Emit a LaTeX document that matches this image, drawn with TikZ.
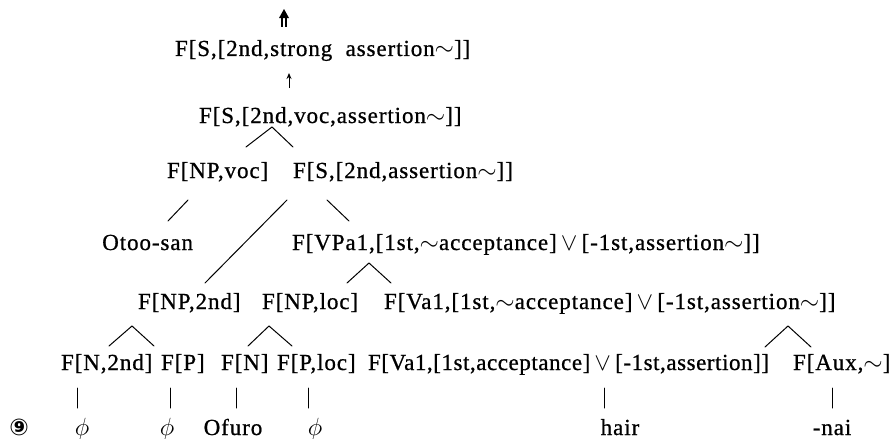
\documentclass[tikz,border=0pt]{standalone}
\usepackage{fontspec}
\setmainfont{Liberation Serif}[LetterSpace=4, FakeBold=0.8]
\newfontfamily\symfont{DejaVu Sans}
\usetikzlibrary{arrows.meta}

\newcommand{\mysim}{$\sim$}
\newcommand{\myvee}{$\,\vee\,$}

\tikzset{
  lbl/.style={inner sep=0pt, outer sep=0pt, font=\fontsize{23}{27}\selectfont},
  branch/.style={line width=1pt, line cap=round},
}

\begin{document}
\begin{tikzpicture}[x=1pt,y=-1pt]
\useasboundingbox (0,0) rectangle (895,439);

% ---- category labels, row by row (baselines) ----
\node[lbl, anchor=base west] (s1) at (175,56) {F[S,[2nd,strong\ \ assertion\mysim]]};
\node[lbl, anchor=base west] (s2) at (199,123) {F[S,[2nd,voc,assertion\mysim]]};

\node[lbl, anchor=base west] (npvoc) at (167,178) {F[NP,voc]};
\node[lbl, anchor=base west] (s3)    at (293,178) {F[S,[2nd,assertion\mysim]]};

\node[lbl, anchor=base east] (otoo) at (193,250) {Otoo-san};
\node[lbl, anchor=base west] (vpa)  at (292,250) {F[VPa1,[1st,\mysim acceptance]\myvee[-1st,assertion\mysim]]};

\node[lbl, anchor=base west] (np2)   at (138,309) {F[NP,2nd]};
\node[lbl, anchor=base west] (nploc) at (262,309) {F[NP,loc]};
\node[lbl, anchor=base west] (va1)   at (384,309) {F[Va1,[1st,\mysim acceptance]\myvee[-1st,assertion\mysim]]};

\node[lbl, anchor=base west] (n2nd) at (61,370)  {F[N,2nd]};
\node[lbl, anchor=base west] (pp)   at (161,370) {F[P]};
\node[lbl, anchor=base west] (nn)   at (221,370) {F[N]};
\node[lbl, anchor=base west] (ploc) at (277,370) {F[P,loc]};
\node[lbl, anchor=base west] (va1b) at (368,370) {\addfontfeature{LetterSpace=2.4}F[Va1,[1st,acceptance]\myvee[-1st,assertion]]};
\node[lbl, anchor=base west] (aux)  at (793,370) {F[Aux,\mysim]};

% ---- terminal words ----
\node[lbl, anchor=base] (num)   at (19,435)  {\symfont\bfseries ⑨};
\node[lbl, anchor=base] (phia)  at (82,435)  {$\phi$};
\node[lbl, anchor=base] (phib)  at (167,435) {$\phi$};
\node[lbl, anchor=base] (ofuro) at (233,435) {Ofuro};
\node[lbl, anchor=base] (phic)  at (315,435) {$\phi$};
\node[lbl, anchor=base] (hair)  at (620,435) {hair};
\node[lbl, anchor=base] (nai)   at (832,435) {-nai};

% ---- double arrow above the root ----
\coordinate (dtip) at (284,9);
\coordinate (dhl) at (279,18); \coordinate (dhr) at (289,18);
\coordinate (dl1) at (282,17); \coordinate (dl2) at (282,27);
\coordinate (dr1) at (286,17); \coordinate (dr2) at (286,27);
\fill (dhl) -- (dtip) -- (dhr) -- cycle;
\draw[line width=1.8pt] (dl1) -- (dl2);
\draw[line width=1.8pt] (dr1) -- (dr2);

% ---- single arrow between the two top labels ----
\coordinate (upa) at (289,88);
\coordinate (upb) at (289,73);
\draw[line width=1pt, -{Stealth[length=6pt,width=5pt]}] (upa) -- (upb);

% ---- branches ----
\coordinate (k1) at (272,127); \coordinate (k1l) at (246,147); \coordinate (k1r) at (293,147);
\draw[branch] (k1l) -- (k1) -- (k1r);

\coordinate (a1) at (188,200); \coordinate (a2) at (168,221);
\draw[branch] (a1) -- (a2);
\coordinate (b1) at (287,200); \coordinate (b2) at (205,283);
\draw[branch] (b1) -- (b2);
\coordinate (c1) at (327,200); \coordinate (c2) at (349,221);
\draw[branch] (c1) -- (c2);

\coordinate (k2) at (369,263); \coordinate (k2l) at (347,283); \coordinate (k2r) at (391,283);
\draw[branch] (k2l) -- (k2) -- (k2r);

\coordinate (k3) at (132,326); \coordinate (k3l) at (109,346); \coordinate (k3r) at (154,346);
\draw[branch] (k3l) -- (k3) -- (k3r);
\coordinate (k4) at (269,326); \coordinate (k4l) at (248,346); \coordinate (k4r) at (292,346);
\draw[branch] (k4l) -- (k4) -- (k4r);
\coordinate (k5) at (788,326); \coordinate (k5l) at (765,347); \coordinate (k5r) at (811,347);
\draw[branch] (k5l) -- (k5) -- (k5r);

% ---- unary links to the words ----
\foreach \x/\n in {77/v1,170/v2,236/v3,308/v4,604/v5,832/v6}{
  \coordinate (\n t) at (\x,388);
  \coordinate (\n b) at (\x,408);
  \draw[branch] (\n t) -- (\n b);
}
\end{tikzpicture}
\end{document}
